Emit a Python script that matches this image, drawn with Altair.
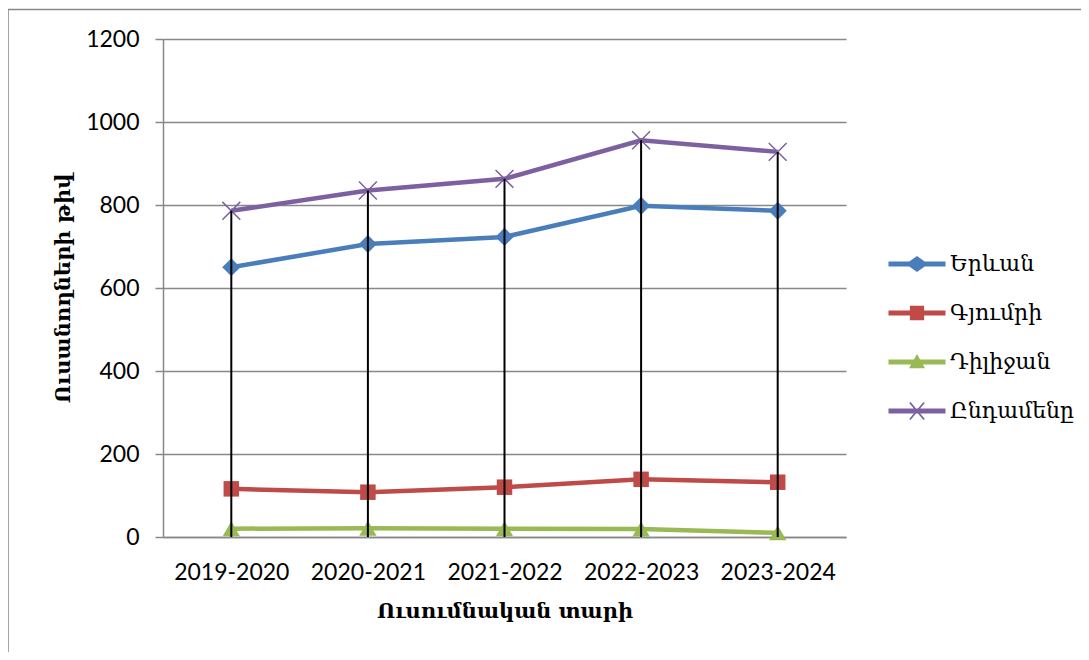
import altair as alt
import pandas as pd

years = ["2019-2020", "2020-2021", "2021-2022", "2022-2023", "2023-2024"]
series_names = ["Երևան", "Գյումրի", "Դիլիջան", "Ընդամենը"]
yerevan = [650, 706, 723, 798, 786]
gyumri = [116, 108, 120, 139, 132]
dilijan = [20, 21, 20, 19, 10]
total = [786, 835, 863, 956, 928]
colors = ["#4A7EBB", "#BE4B48", "#98B954", "#7D60A0"]
y_ticks = [0, 200, 400, 600, 800, 1000, 1200]
x_title = "Ուսումնական տարի"
y_title = "Ուսանողների թիվ"

rows = []
for name, vals in zip(series_names, [yerevan, gyumri, dilijan, total]):
    for yr, v in zip(years, vals):
        rows.append({"year": yr, "series": name, "value": v})
df = pd.DataFrame(rows)
tot_df = pd.DataFrame({"year": years, "total": total})

# legend symbols: line segment + marker
leg_paths = [
    "M-1,-0.09L-0.27,-0.09L0,-0.28L0.27,-0.09L1,-0.09L1,0.09L0.27,0.09L0,0.28L-0.27,0.09L-1,0.09Z",
    "M-1,-0.09L-0.25,-0.09L-0.25,-0.25L0.25,-0.25L0.25,-0.09L1,-0.09L1,0.09L0.25,0.09L0.25,0.25L-0.25,0.25L-0.25,0.09L-1,0.09Z",
    "M-1,-0.09L1,-0.09L1,0.09L-1,0.09Z M0,-0.28L0.28,0.22L-0.28,0.22Z",
    "M-1,-0.09L1,-0.09L1,0.09L-1,0.09Z M-0.225,-0.32L0.275,0.28L0.225,0.32L-0.275,-0.28Z M0.273,-0.281L-0.227,0.319L-0.273,0.281L0.227,-0.319Z",
]
marker_shapes = ["diamond", "square", "triangle-up", "M-1,-1L1,1M1,-1L-1,1"]
marker_sizes = [330, 240, 300, 320]

tick_font = "Lato"
serif = "DejaVu Serif"

x_enc = alt.X(
    "year:N",
    sort=years,
    scale=alt.Scale(type="point", padding=0.5),
    axis=alt.Axis(
        title=x_title, ticks=False, labelAngle=0, labelPadding=24,
        labelFontSize=23, labelFont=tick_font, labelColor="black",
        domainColor="#888888", domainWidth=1.5,
        titleFont=serif, titleFontSize=21, titleFontWeight="bold",
        titleColor="black", titlePadding=16,
    ),
)
y_enc = alt.Y(
    "value:Q",
    scale=alt.Scale(domain=[0, 1200], nice=False),
    axis=alt.Axis(
        title=y_title, values=y_ticks, format="d", grid=True, gridColor="#888888",
        gridWidth=1.5, domainColor="#888888", domainWidth=1.5,
        tickColor="#888888", tickSize=8, tickWidth=1.5, labelPadding=16,
        labelFontSize=23, labelFont=tick_font, labelColor="black",
        titleFont=serif, titleFontSize=21, titleFontWeight="bold",
        titleColor="black", titlePadding=12,
    ),
)

frame = alt.Chart(pd.DataFrame({"a": [0]})).mark_rect(
    fillOpacity=0, stroke="#888888", strokeWidth=1.5
).encode(x=alt.value(-155), x2=alt.value(1100), y=alt.value(-29.5), y2=alt.value(800))

layers = [frame]
for name, c in zip(series_names, colors):
    layers.append(
        alt.Chart(df).transform_filter(alt.datum.series == name)
        .mark_line(color=c, strokeWidth=4.5)
        .encode(x=x_enc, y=y_enc)
    )
for name, c, shp, sz in zip(series_names, colors, marker_shapes, marker_sizes):
    if shp.startswith("M"):
        mk = alt.Chart(df).mark_point(shape=shp, size=sz, color=c, filled=False,
                                      strokeWidth=1.5, opacity=1)
    else:
        mk = alt.Chart(df).mark_point(shape=shp, size=sz, color=c, filled=True,
                                      opacity=1)
    layers.append(mk.transform_filter(alt.datum.series == name).encode(x=x_enc, y=y_enc))

rules = alt.Chart(tot_df).mark_rule(color="black", strokeWidth=2).encode(
    x=alt.X("year:N", sort=years), y="total:Q", y2=alt.datum(0)
)
layers.append(rules)

legend = alt.Legend(
    title=None, orient="none", legendX=725, legendY=196,
    symbolSize=3250, symbolOpacity=1, symbolStrokeWidth=0,
    labelFont=serif, labelFontSize=22, labelColor="black", labelOffset=4,
    rowPadding=9,
)
carrier = alt.Chart(df).mark_point(filled=True, opacity=0).encode(
    x=x_enc, y=y_enc,
    color=alt.Color("series:N", scale=alt.Scale(domain=series_names, range=colors), legend=legend),
    shape=alt.Shape("series:N", scale=alt.Scale(domain=series_names, range=leg_paths), legend=legend),
)
layers.append(carrier)

chart = alt.layer(*layers).properties(
    width=683, height=498,
    autosize=alt.AutoSizeParams(type="none"),
    padding={"left": 155, "top": 31, "right": 235, "bottom": 115},
    background="white",
).configure_view(stroke=None)

chart.save("out.html", embed_options={"renderer": "svg", "actions": False})
